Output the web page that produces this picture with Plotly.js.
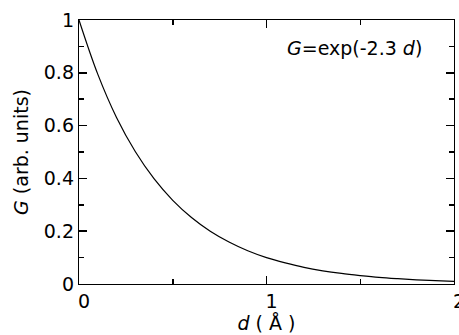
<!DOCTYPE html>
<html>
<head>
<meta charset="utf-8">
<script src="https://cdn.plot.ly/plotly-3.0.1.min.js"></script>
<style>
  html, body { margin: 0; padding: 0; background: #fff; }
  #plot { width: 459px; height: 335px; }
</style>
</head>
<body>
<div id="plot"></div>
<script>
// distance d (Angstrom) and G (arb. units)
var dValues = [0, 0.1, 0.2, 0.3, 0.4, 0.5, 0.6, 0.7, 0.8, 0.9, 1.0,
               1.1, 1.2, 1.3, 1.4, 1.5, 1.6, 1.7, 1.8, 1.9, 2.0];
var gValues = [1.0, 0.795, 0.631, 0.502, 0.399, 0.317, 0.252, 0.200, 0.159, 0.126, 0.100,
               0.080, 0.063, 0.050, 0.040, 0.032, 0.025, 0.020, 0.016, 0.013, 0.010];

var xTicks = [0, 1, 2];
var xTickText = ['0', '1', '2'];
var yTicks = [0, 0.2, 0.4, 0.6, 0.8, 1];
var yTickText = ['0', '0.2', '0.4', '0.6', '0.8', '1'];

var fontFamily = 'DejaVu Sans, Arial, sans-serif';

var traces = [{
	x: dValues,
	y: gValues,
	type: 'scatter',
	mode: 'lines',
	line: {color: '#000000', width: 1.2, shape: 'spline'},
	hoverinfo: 'skip',
}];

var layout = {
	width: 459, height: 335,
	margin: {l: 79, r: 5, t: 20, b: 51},
	paper_bgcolor: '#ffffff',
	plot_bgcolor: '#ffffff',
	showlegend: false,
	font: {family: fontFamily, size: 19, color: '#000000'},
	xaxis: {
		range: [0, 2],
		tickvals: xTicks,
		ticktext: xTickText,
		ticks: 'inside', ticklen: 8, tickwidth: 1.5, tickcolor: '#000',
		minor: {tickvals: [0.5, 1.5], ticks: 'inside', ticklen: 5, tickwidth: 1.5, tickcolor: '#000'},
		showline: true, linecolor: '#000', linewidth: 1.2, mirror: 'ticks',
		showgrid: false, zeroline: false,
		ticklabelshift: 5,
		ticklabeloverflow: 'allow',
		tickfont: {size: 19},
		title: {text: '<i>d</i> ( Å )', font: {size: 19}, standoff: 2},
	},
	yaxis: {
		range: [0, 1],
		tickvals: yTicks,
		ticktext: yTickText,
		ticks: 'inside', ticklen: 8, tickwidth: 1.5, tickcolor: '#000',
		minor: {tickvals: [0.1, 0.3, 0.5, 0.7, 0.9], ticks: 'inside', ticklen: 5, tickwidth: 1.5, tickcolor: '#000'},
		showline: true, linecolor: '#000', linewidth: 1.2, mirror: 'ticks',
		showgrid: false, zeroline: false,
		ticklabeloverflow: 'allow',
		tickfont: {size: 19},
		title: {text: '<i>G</i> (arb. units)', font: {size: 19}, standoff: 10},
	},
	annotations: [{
		text: '<i>G</i>=exp(-2.3 <i>d</i>)',
		xref: 'paper', yref: 'paper',
		x: 0.549, y: 0.894,
		xanchor: 'left', yanchor: 'middle',
		showarrow: false,
		font: {family: fontFamily, size: 19, color: '#000'},
	}],
};

Plotly.newPlot('plot', traces, layout, {displayModeBar: false, staticPlot: true});
</script>
</body>
</html>
